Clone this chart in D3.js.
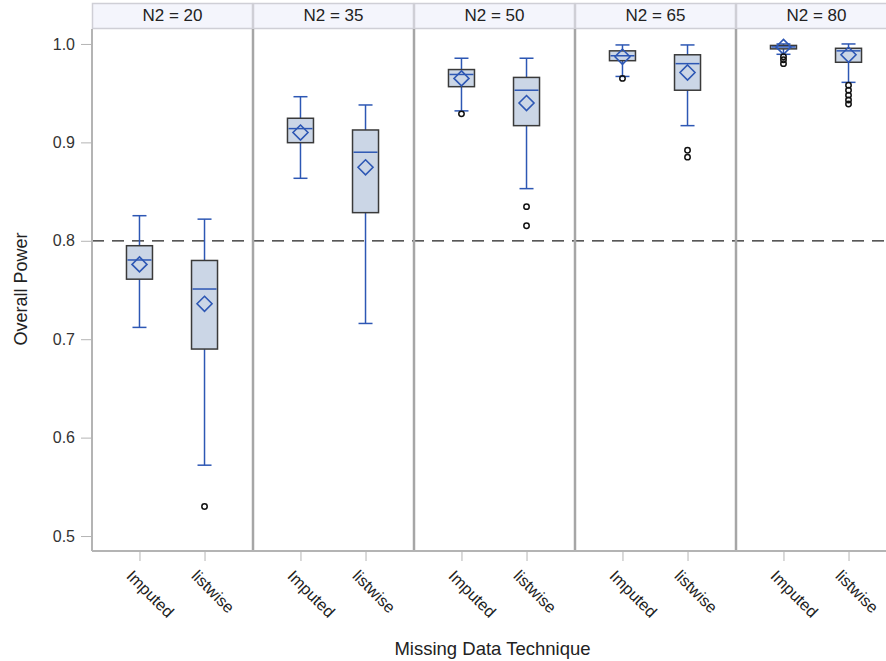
<!DOCTYPE html>
<html><head><meta charset="utf-8">
<script src="https://cdn.jsdelivr.net/npm/d3@7"></script>
<style>
html,body{margin:0;padding:0;background:#fff;overflow:hidden;}
svg{display:block;font-family:"Liberation Sans",Arial,sans-serif;}
</style></head>
<body><svg id="chart" width="886" height="661"></svg>
<script>
// ---- data ----
const panels = ["N2 = 20","N2 = 35","N2 = 50","N2 = 65","N2 = 80"];
const techniques = ["Imputed","listwise"];
const yTicks = [0.5,0.6,0.7,0.8,0.9,1.0];
const refLine = 0.8;
// per panel, per technique: [whiskerLow, q1, median, q3, whiskerHigh]
const imputedStats = [
  [0.712,0.761,0.7805,0.795,0.8255],
  [0.8635,0.8997,0.914,0.9245,0.9464],
  [0.932,0.9566,0.969,0.974,0.9855],
  [0.967,0.983,0.988,0.993,0.999],
  [0.9895,0.995,0.997,0.9985,1.0]
];
const imputedMeans = [0.776,0.910,0.965,0.987,0.997];
const imputedOutliers = [[],[],[0.929],[0.965],[0.987,0.984,0.980]];
const listwiseStats = [
  [0.572,0.690,0.751,0.780,0.822],
  [0.716,0.8286,0.890,0.9126,0.938],
  [0.853,0.917,0.953,0.966,0.9855],
  [0.917,0.953,0.980,0.989,0.999],
  [0.961,0.9814,0.993,0.9956,1.0]
];
const listwiseMeans = [0.736,0.8747,0.940,0.971,0.989];
const listwiseOutliers = [[0.530],[],[0.8347,0.8153],[0.892,0.885],[0.958,0.953,0.948,0.943,0.939]];

(function(){
// ---- layout ----
const svg = d3.select("#chart");
const L = 92, T = 29, B = 551, panelW = 161;
const headTop = 3;
const y = d3.scaleLinear().domain([0.4848,1.0152]).range([B,T]);
const px = d3.scaleBand().domain(panels).range([L,L+panelW*panels.length]);
const xi = d3.scalePoint().domain(techniques).range([0,160]).padding(0.73);
const boxW = 26, capW = 14;
const blue = "#2d57b4", boxFill = "#cbd6e6", boxStroke = "#3a3a3a";
const R = L+panelW*panels.length;
const FF = "Liberation Sans,Arial,sans-serif";

const rows = [];
panels.forEach((p,i)=>{
  rows.push({panel:p,tech:"Imputed",s:imputedStats[i],mean:imputedMeans[i],out:imputedOutliers[i]});
  rows.push({panel:p,tech:"listwise",s:listwiseStats[i],mean:listwiseMeans[i],out:listwiseOutliers[i]});
});

// header strips
panels.forEach(p=>{
  const x0 = px(p);
  svg.append("rect").attr("x",x0+0.5).attr("y",headTop+0.5).attr("width",panelW-1).attr("height",T-headTop-1)
    .attr("fill","#f4f5fc").attr("stroke","#cfcfd6").attr("stroke-width",1.5);
  svg.append("text").attr("x",x0+panelW/2).attr("y",21).attr("text-anchor","middle")
    .attr("font-size",17).attr("fill","#222").text(p);
});

// reference line
svg.append("line").attr("x1",L).attr("x2",R).attr("y1",y(refLine)).attr("y2",y(refLine))
  .attr("stroke","#222").attr("stroke-width",1.3).attr("stroke-dasharray","12,8");

// boxes
const g = svg.append("g");
rows.forEach(r=>{
  const cx = px(r.panel)+xi(r.tech);
  const [wl,q1,md,q3,wh] = r.s;
  g.append("line").attr("x1",cx).attr("x2",cx).attr("y1",y(wh)).attr("y2",y(q3)).attr("stroke",blue).attr("stroke-width",1.5);
  g.append("line").attr("x1",cx).attr("x2",cx).attr("y1",y(q1)).attr("y2",y(wl)).attr("stroke",blue).attr("stroke-width",1.5);
  [wl,wh].forEach(v=>g.append("line").attr("x1",cx-capW/2).attr("x2",cx+capW/2).attr("y1",y(v)).attr("y2",y(v))
    .attr("stroke",blue).attr("stroke-width",1.5));
  g.append("rect").attr("x",cx-boxW/2).attr("y",y(q3)).attr("width",boxW).attr("height",y(q1)-y(q3))
    .attr("fill",boxFill).attr("stroke",boxStroke).attr("stroke-width",1.5);
  g.append("line").attr("x1",cx-boxW/2+1).attr("x2",cx+boxW/2-1).attr("y1",y(md)).attr("y2",y(md)).attr("stroke",blue).attr("stroke-width",1.5);
  const my = y(r.mean), d = 7.5;
  g.append("path").attr("d",`M${cx},${my-d}L${cx+d},${my}L${cx},${my+d}L${cx-d},${my}Z`)
    .attr("fill","none").attr("stroke",blue).attr("stroke-width",1.6);
  r.out.forEach(v=>g.append("circle").attr("cx",cx).attr("cy",y(v)).attr("r",2.7)
    .attr("fill","none").attr("stroke","#111").attr("stroke-width",1.5));
});

// panel borders
panels.forEach((p,i)=>{
  const x0 = px(p);
  if(i>0) svg.append("line").attr("x1",x0).attr("x2",x0).attr("y1",T).attr("y2",B).attr("stroke","#a6a6a6").attr("stroke-width",2.5);
});
svg.append("line").attr("x1",R).attr("x2",R).attr("y1",T).attr("y2",B).attr("stroke","#a6a6a6").attr("stroke-width",2.5);

// y axis
const yAxis = svg.append("g").attr("transform",`translate(${L},0)`)
  .call(d3.axisLeft(y).tickValues(yTicks).tickFormat(d3.format(".1f")).tickSize(11).tickPadding(6));
yAxis.select(".domain").attr("stroke","#b4b4b4").attr("stroke-width",2).attr("d",`M0,${T}V${B}`);
yAxis.selectAll(".tick line").attr("stroke","#b4b4b4");
yAxis.selectAll(".tick text").attr("font-size",16).attr("fill","#333").attr("font-family",FF);

// bottom axis line
svg.append("line").attr("x1",L).attr("x2",R).attr("y1",B).attr("y2",B)
  .attr("stroke","#b4b4b4").attr("stroke-width",2);

// x axes
panels.forEach(p=>{
  const ax = svg.append("g").attr("transform",`translate(${px(p)},${B})`)
    .call(d3.axisBottom(xi).tickSize(10).tickFormat(""));
  ax.select(".domain").remove();
  ax.selectAll(".tick line").attr("stroke","#b4b4b4");
  techniques.forEach(t=>{
    const tx = xi(t)-14, ty = 26;
    ax.append("text").attr("transform",`translate(${tx},${ty}) rotate(45)`)
      .attr("text-anchor","start").attr("font-size",16.3).attr("fill","#222")
      .attr("font-family",FF).text(t);
  });
});

// axis titles
svg.append("text").attr("transform",`translate(27,289) rotate(-90)`).attr("text-anchor","middle")
  .attr("font-size",18).attr("fill","#222").text("Overall Power");
svg.append("text").attr("x",492.5).attr("y",655).attr("text-anchor","middle")
  .attr("font-size",18.5).attr("fill","#222").text("Missing Data Technique");
})();
</script></body></html>
